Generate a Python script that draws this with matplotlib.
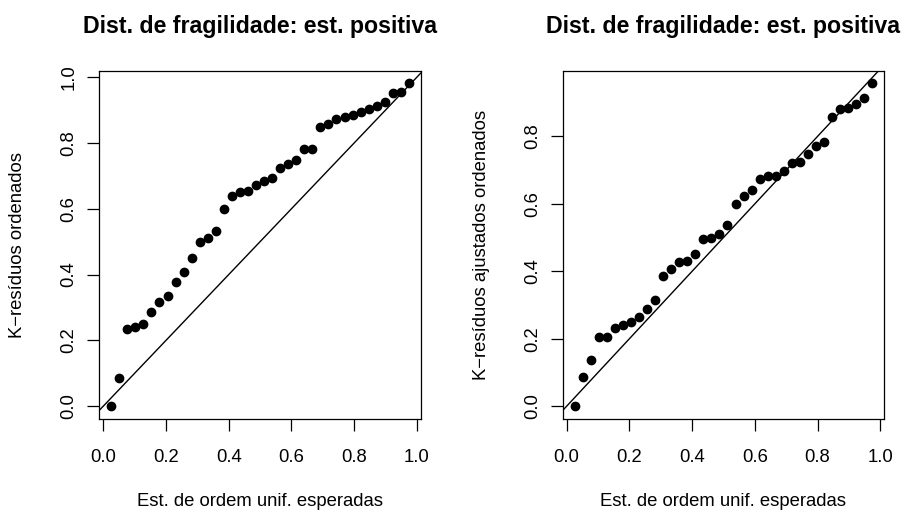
import numpy as np
import matplotlib
matplotlib.use('Agg')
import matplotlib.pyplot as plt

# ========================
# Data
# ========================

# expected uniform order statistics i/(n+1), n = 38
unif_esperadas = [0.0256, 0.0513, 0.0769, 0.1026, 0.1282, 0.1538, 0.1795, 0.2051,
                  0.2308, 0.2564, 0.2821, 0.3077, 0.3333, 0.3590, 0.3846, 0.4103,
                  0.4359, 0.4615, 0.4872, 0.5128, 0.5385, 0.5641, 0.5897, 0.6154,
                  0.6410, 0.6667, 0.6923, 0.7179, 0.7436, 0.7692, 0.7949, 0.8205,
                  0.8462, 0.8718, 0.8974, 0.9231, 0.9487, 0.9744]

k_residuos = [0.002, 0.086, 0.235, 0.241, 0.251, 0.286, 0.316, 0.336,
              0.379, 0.408, 0.449, 0.499, 0.512, 0.532, 0.600, 0.639,
              0.652, 0.655, 0.673, 0.683, 0.695, 0.725, 0.736, 0.749,
              0.782, 0.782, 0.850, 0.857, 0.873, 0.880, 0.885, 0.894,
              0.903, 0.912, 0.924, 0.952, 0.956, 0.981]

k_residuos_ajust = [0.002, 0.087, 0.137, 0.205, 0.205, 0.232, 0.241, 0.251,
                    0.266, 0.287, 0.316, 0.387, 0.408, 0.429, 0.432, 0.450,
                    0.496, 0.498, 0.512, 0.536, 0.601, 0.623, 0.640, 0.674,
                    0.684, 0.684, 0.697, 0.720, 0.725, 0.748, 0.772, 0.782,
                    0.857, 0.881, 0.884, 0.896, 0.913, 0.957]

titulo = "Dist. de fragilidade: est. positiva"
xlabel = "Est. de ordem unif. esperadas"
ylabels = ["K\u2212resíduos ordenados", "K\u2212resíduos ajustados ordenados"]
ticks = [0.0, 0.2, 0.4, 0.6, 0.8, 1.0]

# ========================
# Style
# ========================
plt.rcParams['font.family'] = ['Liberation Sans', 'DejaVu Sans']
W, H = 904, 511
fig = plt.figure(figsize=(W / 100, H / 100), dpi=100)


def r_lim(v):
    lo, hi = min(v), max(v)
    d = (hi - lo) * 0.04
    return lo - d, hi + d


def qq_panel(left_px, yvals, ylab):
    ax = fig.add_axes([left_px / W, (H - 418.5) / H, 321.5 / W, 348 / H])
    ax.plot(unif_esperadas, yvals, 'o', color='black', ms=6, mec='black')
    ax.axline((0, 0), (1, 1), color='black', lw=1.0)
    ax.set_xlim(r_lim(unif_esperadas))
    ax.set_ylim(r_lim(yvals))
    ax.set_xticks(ticks)
    ax.set_yticks([t for t in ticks if t <= ax.get_ylim()[1]])
    ax.xaxis.set_major_formatter(matplotlib.ticker.FormatStrFormatter('%.1f'))
    ax.yaxis.set_major_formatter(matplotlib.ticker.FormatStrFormatter('%.1f'))
    for s in ax.spines.values():
        s.set_linewidth(0.9)
    ax.tick_params(axis='both', direction='out', length=8.6, width=0.9,
                   labelsize=13.3, colors='black')
    ax.tick_params(axis='x', pad=13)
    ax.tick_params(axis='y', pad=7, labelrotation=90)
    for lbl in ax.get_yticklabels():
        lbl.set_va('center')
    ax.set_title(titulo, fontsize=16.7, fontweight='bold', pad=27)
    ax.set_xlabel(xlabel, fontsize=13.3)
    ax.set_ylabel(ylab, fontsize=13.3)
    ax.xaxis.set_label_coords(0.5, -0.215)
    ax.yaxis.set_label_coords(-0.227, 0.5)
    return ax


qq_panel(99.3, k_residuos, ylabels[0])
qq_panel(562.7, k_residuos_ajust, ylabels[1])

fig.savefig('out.png', dpi=100, facecolor='white')
plt.close(fig)
